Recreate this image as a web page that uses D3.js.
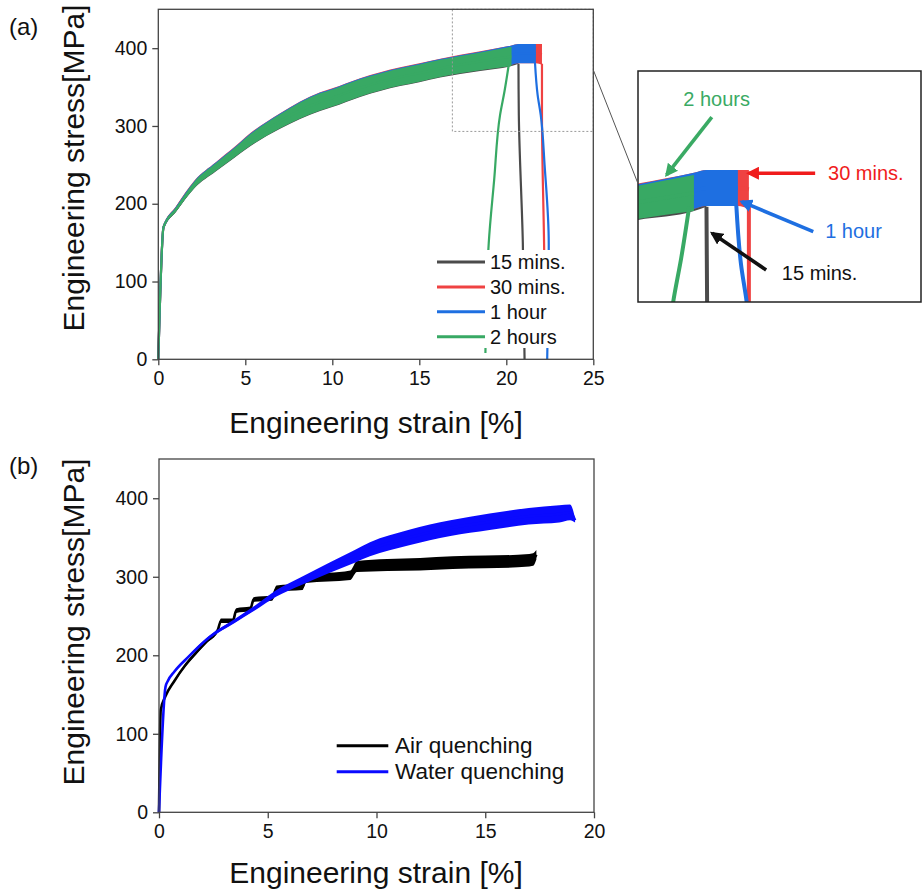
<!DOCTYPE html>
<html>
<head>
<meta charset="utf-8">
<script src="https://cdn.jsdelivr.net/npm/d3@7"></script>
<style>
  body { margin: 0; background: #fff; }
  svg { display: block; }
</style>
</head>
<body>
<svg id="fig" width="923" height="892"></svg>
<script>
// ---- (a) heat-treatment time series ----
// shared strain grid [%]; each series uses the first N points
const strainA = [0, 0.3, 1.0, 2.1, 3.3, 4.4, 5.0, 7.0, 9.3, 10.0, 11.6, 13.9, 15.0, 16.2, 18.5, 20.3, 20.7, 21.7, 22.05];
const stress15m = [0, 169.5, 191.5, 224.5, 246.5, 265.5, 276.5, 305.3, 330.3, 335.3, 348.3, 362.3, 367.3, 373.3, 382.3, 389.5, 392.5];
const stress30m = [0, 170, 193.5, 226.5, 248.5, 267.5, 278.5, 307.5, 332.5, 337.5, 350.5, 364.5, 369.5, 375.5, 384.5, 391, 393, 393, 392];
const stress1h  = [0, 170, 193, 226, 248, 267, 278, 307, 332, 337, 350, 364, 369, 375, 384, 391, 393, 393];
const stress2h  = [0, 170, 192, 225, 247, 266, 277, 306, 331, 336, 349, 363, 368, 374, 383, 389.5];
// half width of the serrated band [MPa]
const noiseA = [0, 1.5, 2.5, 4, 5, 6, 7, 9, 11, 11, 11, 11, 11, 11, 11.5, 12.5, 12.5, 12.5, 13.5];

// fracture drops [strain, stress]
const drop15m = [[20.7, 380], [20.72, 314], [20.95, 150], [21.05, 0]];
const drop30m = [[22.05, 380], [22.05, 314], [22.17, 150], [22.2, 100]];
const drop1h  = [[21.65, 381], [21.8, 340], [21.98, 314], [22.2, 250], [22.44, 149], [22.4, 60], [22.35, 0]];
const drop2h  = [[20.15, 380], [19.9, 345], [19.64, 314], [19.3, 230], [18.99, 149], [18.8, 8]];

const labelsA = ["15 mins.", "30 mins.", "1 hour", "2 hours"];

// ---- (b) quenching series ----
const strainAir   = [0, 0.08, 0.3, 0.7, 1.2, 1.7, 2.2, 2.7, 2.85, 3.4, 3.55, 4.2, 4.35, 5.2, 5.4, 6.6, 6.75, 8.8, 9.1, 10.5, 12, 13.5, 15, 16.5, 17.2, 17.35];
const stressAir   = [0, 130, 148, 167, 187, 203, 218, 232, 244, 244, 257, 259, 271, 273, 285, 287, 297, 302, 313, 315, 316, 318, 319, 320, 322, 328];
const noiseAir    = [0, 0, 1, 1.5, 2, 2, 2.5, 2.5, 3, 3, 3, 3, 3, 3.5, 4, 4, 5, 6, 7, 7.5, 8, 8, 8, 8, 8, 6];
const strainWater = [0, 0.3, 0.4, 0.7, 1.35, 2.27, 3.5, 4.4, 5.4, 6.5, 7.8, 9.0, 9.7, 11.5, 13.4, 15.2, 17.0, 18.4, 18.9, 19.13];
const stressWater = [0, 160, 167, 179, 198, 222, 244, 260, 279, 294, 311, 326, 335, 350, 362, 370, 377, 380, 382, 372];
const noiseWater  = [0, 0, 0.5, 1, 1.5, 2, 2.5, 3, 4, 5, 6.5, 8, 9, 10, 10, 10.5, 10.5, 11, 10, 3];
const labelsB = ["Air quenching", "Water quenching"];

const ticksY = [0, 100, 200, 300, 400];
const ticksXA = [0, 5, 10, 15, 20, 25];
const ticksXB = [0, 5, 10, 15, 20];

const font = "'Liberation Sans', Arial, sans-serif";
const colA = ["#4b4b4b", "#ef4242", "#1e6fe1", "#38a964"];
const colB = ["#000000", "#0a0aff"];

const svg = d3.select("#fig").attr("font-family", font);
const defs = svg.append("defs");

const pa = { left: 158.3, top: 9.3, width: 435, height: 350 };
const pb = { left: 159, top: 459, width: 435, height: 353.3 };

const xA = d3.scaleLinear().domain([0, 25]).range([pa.left, pa.left + pa.width]);
const yA = d3.scaleLinear().domain([0, 450]).range([pa.top + pa.height, pa.top]);
const xB = d3.scaleLinear().domain([0, 20]).range([pb.left, pb.left + pb.width]);
const yB = d3.scaleLinear().domain([0, 450]).range([pb.top + pb.height, pb.top]);

// inset (magnified end of the curves)
const box = { left: 638, top: 71, width: 283, height: 231 };
const xI = d3.scaleLinear().domain([18.52, 27.53]).range([box.left, box.left + box.width]);
const yI = d3.scaleLinear().domain([314, 474]).range([box.top + box.height, box.top]);

const seriesA = [
    { v: stress15m, drop: drop15m },
    { v: stress30m, drop: drop30m },
    { v: stress1h, drop: drop1h },
    { v: stress2h, drop: drop2h }
];

// draws a serrated curve as a band + centre line, then the fracture drop
const drawCurve = (g, x, y, s, v, n, drop, color, lw) => {
    const pts = v.map((d, i) => ({ s: s[i], v: d, n: n[i] }));
    g.append("path").datum(pts)
        .attr("fill", color)
        .attr("d", d3.area().curve(d3.curveMonotoneX)
            .x(d => x(d.s)).y0(d => y(d.v - d.n)).y1(d => y(d.v + d.n)));
    g.append("path").datum(pts)
        .attr("fill", "none").attr("stroke", color).attr("stroke-width", lw)
        .attr("stroke-linejoin", "round")
        .attr("d", d3.line().curve(d3.curveMonotoneX).x(d => x(d.s)).y(d => y(d.v)));
    if (drop) {
        g.append("path").datum(drop)
            .attr("fill", "none").attr("stroke", color).attr("stroke-width", lw)
            .attr("d", d3.line().curve(d3.curveMonotoneY).x(d => x(d[0])).y(d => y(d[1])));
    }
};

const drawAxes = (x, y, xt, p) => {
    const gx = svg.append("g")
        .attr("transform", `translate(0,${p.top + p.height})`)
        .call(d3.axisBottom(x).tickValues(xt).tickSize(6).tickSizeOuter(0).tickPadding(6));
    const gy = svg.append("g")
        .attr("transform", `translate(${p.left},0)`)
        .call(d3.axisLeft(y).tickValues(ticksY).tickSize(6).tickSizeOuter(0).tickPadding(5));
    [gx, gy].forEach(g => {
        g.attr("font-family", font).attr("font-size", 19.5);
        g.select(".domain").remove();
        g.selectAll("line").attr("stroke", "#444").attr("stroke-width", 1.3);
        g.selectAll("text").attr("fill", "#111");
    });
    svg.append("rect")
        .attr("x", p.left).attr("y", p.top).attr("width", p.width).attr("height", p.height)
        .attr("fill", "none").attr("stroke", "#444").attr("stroke-width", 1.3);
};

// ---------- panel (a) ----------
const gA = svg.append("g");
seriesA.forEach((d, i) => drawCurve(gA, xA, yA, strainA, d.v, noiseA, d.drop, colA[i], 2.2));

// zoom window
svg.append("rect")
    .attr("x", xA(16.9)).attr("y", yA(450))
    .attr("width", xA(25) - xA(16.9)).attr("height", yA(293) - yA(450))
    .attr("fill", "none").attr("stroke", "#999").attr("stroke-width", 1)
    .attr("stroke-dasharray", "2,2");

// legend (a)
const legA = svg.append("g");
legA.append("rect").attr("x", 436).attr("y", 250).attr("width", 132).attr("height", 98).attr("fill", "#fff");
labelsA.forEach((t, i) => {
    const ly = 262 + i * 24.9;
    legA.append("line").attr("x1", 437).attr("x2", 485).attr("y1", ly).attr("y2", ly)
        .attr("stroke", colA[i]).attr("stroke-width", 3);
    legA.append("text").attr("x", 490).attr("y", ly).attr("dy", "0.35em")
        .attr("font-size", 20).attr("fill", "#111").text(t);
});

drawAxes(xA, yA, ticksXA, pa);

// ---------- inset ----------
defs.append("clipPath").attr("id", "clipI").append("rect")
    .attr("x", box.left).attr("y", box.top).attr("width", box.width).attr("height", box.height);
const gI = svg.append("g").attr("clip-path", "url(#clipI)");
seriesA.forEach((d, i) => drawCurve(gI, xI, yI, strainA, d.v, noiseA, d.drop, colA[i], 4));
svg.append("rect")
    .attr("x", box.left).attr("y", box.top).attr("width", box.width).attr("height", box.height)
    .attr("fill", "none").attr("stroke", "#222").attr("stroke-width", 1.5);

// connector from zoom window to inset
svg.append("line")
    .attr("x1", xA(25)).attr("y1", yA(372)).attr("x2", xI(18.52)).attr("y2", yI(396))
    .attr("stroke", "#555").attr("stroke-width", 1);

// inset annotations: arrow [from strain, from stress, tip strain, tip stress], text position
const notes = [
    { t: "2 hours", c: "#3aaa64", a: [20.87, 442, 19.43, 402], p: [19.96, 449.8] },
    { t: "30 mins.", c: "#f01c1c", a: [24.16, 403.2, 22.04, 403.2], p: [24.57, 398.5] },
    { t: "1 hour", c: "#1e6fe1", a: [24.1, 362.7, 21.82, 383.5], p: [24.48, 358.4] },
    { t: "15 mins.", c: "#111111", a: [22.6, 336.2, 20.88, 361.6], p: [23.1, 329.3] }
];
notes.forEach((d, i) => {
    defs.append("marker").attr("id", "arr" + i)
        .attr("viewBox", "0 0 10 10").attr("refX", 8).attr("refY", 5)
        .attr("markerWidth", 3.6).attr("markerHeight", 3.6).attr("orient", "auto")
        .append("path").attr("d", "M0,0L10,5L0,10z").attr("fill", d.c);
    svg.append("line")
        .attr("x1", xI(d.a[0])).attr("y1", yI(d.a[1]))
        .attr("x2", xI(d.a[2])).attr("y2", yI(d.a[3]))
        .attr("stroke", d.c).attr("stroke-width", 3.6)
        .attr("marker-end", `url(#arr${i})`);
    svg.append("text").attr("x", xI(d.p[0])).attr("y", yI(d.p[1]))
        .attr("font-size", 20).attr("fill", d.c).text(d.t);
});

// ---------- panel (b) ----------
const gB = svg.append("g");
drawCurve(gB, xB, yB, strainAir, stressAir, noiseAir, null, colB[0], 2.6);
drawCurve(gB, xB, yB, strainWater, stressWater, noiseWater, null, colB[1], 2.6);

const legB = svg.append("g");
legB.append("rect").attr("x", 335).attr("y", 732).attr("width", 237).attr("height", 55).attr("fill", "#fff");
labelsB.forEach((t, i) => {
    const ly = 745.7 + i * 26;
    legB.append("line").attr("x1", 336.7).attr("x2", 388.3).attr("y1", ly).attr("y2", ly)
        .attr("stroke", colB[i]).attr("stroke-width", 3);
    legB.append("text").attr("x", 395).attr("y", ly).attr("dy", "0.33em")
        .attr("font-size", 22.5).attr("fill", "#111").text(t);
});

drawAxes(xB, yB, ticksXB, pb);

// ---------- titles ----------
const titles = [
    { t: "Engineering strain [%]", x: 376, y: 433, r: 0 },
    { t: "Engineering strain [%]", x: 376, y: 883, r: 0 },
    { t: "Engineering stress[MPa]", x: 84, y: 168, r: -90 },
    { t: "Engineering stress[MPa]", x: 84, y: 622, r: -90 }
];
titles.forEach(d => {
    svg.append("text")
        .attr("transform", `translate(${d.x},${d.y}) rotate(${d.r})`)
        .attr("text-anchor", "middle").attr("font-size", 30).attr("fill", "#111")
        .text(d.t);
});
svg.append("text").attr("x", 9).attr("y", 35).attr("font-size", 24).attr("fill", "#111").text("(a)");
svg.append("text").attr("x", 9).attr("y", 474).attr("font-size", 24).attr("fill", "#111").text("(b)");
</script>
</body>
</html>
